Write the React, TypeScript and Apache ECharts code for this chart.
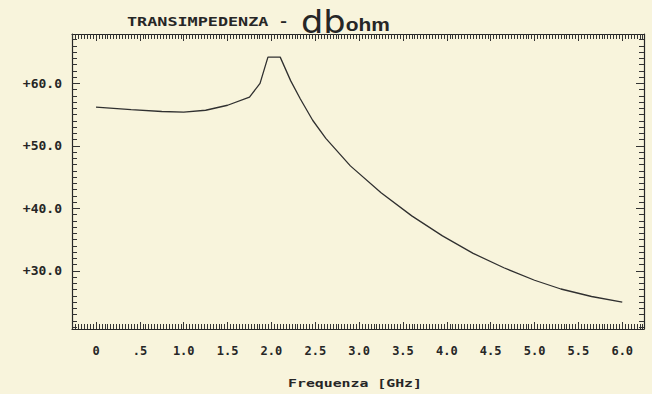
import React, { useEffect, useRef } from 'react';
import * as echarts from 'echarts';

// ---- data ----
const freqGHz = [0, 0.4, 0.75, 1.0, 1.25, 1.5, 1.75, 1.87, 1.96, 2.1, 2.22, 2.33, 2.47, 2.62, 2.9, 3.25, 3.6, 3.95, 4.3, 4.65, 5.0, 5.3, 5.65, 6.0];
const transDbOhm = [56.2, 55.8, 55.5, 55.4, 55.7, 56.5, 57.8, 60.0, 64.2, 64.2, 60.4, 57.5, 54.1, 51.2, 46.8, 42.5, 38.8, 35.6, 32.8, 30.5, 28.5, 27.1, 25.9, 25.0];

const xTickValues = [0, 0.5, 1, 1.5, 2, 2.5, 3, 3.5, 4, 4.5, 5, 5.5, 6];
const xTickLabels = ['0', '.5', '1.0', '1.5', '2.0', '2.5', '3.0', '3.5', '4.0', '4.5', '5.0', '5.5', '6.0'];
const yTickValues = [30, 40, 50, 60];
const yTickLabels = ['+30.0', '+40.0', '+50.0', '+60.0'];

const titleText = 'TRANSIMPEDENZA -';
const xAxisTitle = 'Frequenza [GHz]';

// ---- layout / style ----
const X_MIN = -0.274;
const X_MAX = 6.248;
const Y_MIN = 20.7;
const Y_MAX = 67.9;
const INK = '#262626';
const BG = '#f8f4dc';

const xMinor: number[] = [];
for (let i = -8; i <= 187; i++) xMinor.push(i / 30);
const yMinor: number[] = [];
for (let v = 21; v <= 67; v++) yMinor.push(v);

const labelFor = (vals: number[], labels: string[]) => (v: number) => {
  const i = vals.findIndex((t) => Math.abs(t - v) < 1e-6);
  return i >= 0 ? labels[i] : '';
};

function mkX(position: 'top' | 'bottom', major: boolean) {
  return {
    type: 'value',
    position,
    min: X_MIN,
    max: X_MAX,
    axisLine: { show: major, onZero: false, lineStyle: { color: INK, width: 1.2 } },
    axisTick: {
      show: true,
      inside: true,
      length: major ? 7 : 5,
      customValues: major ? xTickValues : xMinor,
      lineStyle: { color: '#333', width: 1 },
    },
    axisLabel: {
      show: major && position === 'bottom',
      customValues: xTickValues,
      formatter: labelFor(xTickValues, xTickLabels),
      margin: 16,
      color: INK,
      fontFamily: '"DejaVu Sans Mono"',
      fontWeight: 'bold',
      fontSize: 12,
    },
    splitLine: { show: false },
  };
}

function mkY(position: 'left' | 'right', major: boolean) {
  return {
    type: 'value',
    position,
    min: Y_MIN,
    max: Y_MAX,
    axisLine: { show: major, onZero: false, lineStyle: { color: INK, width: 1.2 } },
    axisTick: {
      show: true,
      inside: true,
      length: major ? 8 : 5,
      customValues: major ? yTickValues : yMinor,
      lineStyle: { color: '#333', width: 1 },
    },
    axisLabel: {
      show: major && position === 'left',
      customValues: yTickValues,
      formatter: labelFor(yTickValues, yTickLabels),
      margin: 10,
      color: INK,
      fontFamily: '"DejaVu Sans Mono"',
      fontWeight: 'bold',
      fontSize: 13,
    },
    splitLine: { show: false },
  };
}

export default function App() {
  const ref = useRef<HTMLDivElement>(null);
  useEffect(() => {
    if (!ref.current) return;
    const chart = echarts.init(ref.current, undefined, { renderer: 'svg' });
    chart.setOption({
      animation: false,
      backgroundColor: BG,
      grid: { left: 72, right: 8, top: 34, bottom: 65, containLabel: false },
      xAxis: [mkX('bottom', true), mkX('bottom', false), mkX('top', true), mkX('top', false)],
      yAxis: [mkY('left', true), mkY('left', false), mkY('right', true), mkY('right', false)],
      series: [
        {
          type: 'line',
          xAxisIndex: 0,
          yAxisIndex: 0,
          data: freqGHz.map((f, i) => [f, transDbOhm[i]]),
          showSymbol: false,
          smooth: false,
          lineStyle: { color: '#303030', width: 1.3 },
        },
      ],
      graphic: [
        {
          type: 'text',
          x: 127,
          y: 21,
          scaleX: 1.4,
          style: {
            text: titleText,
            font: 'bold 12px "DejaVu Sans Mono"',
            fill: INK,
            textAlign: 'left',
            textVerticalAlign: 'middle',
          },
        },
        {
          type: 'text',
          x: 301,
          y: 38,
          scaleX: 1.1,
          style: {
            text: '{a|db}{b|ohm}',
            textAlign: 'left',
            textVerticalAlign: 'bottom',
            fill: INK,
            rich: {
              a: { fontFamily: '"DejaVu Sans"', fontSize: 32, fontWeight: 'normal', fill: INK, verticalAlign: 'bottom', lineHeight: 32, padding: [0, 0, 0, 0] },
              b: { fontFamily: '"Liberation Sans"', fontSize: 19, fontWeight: 'bold', fill: INK, verticalAlign: 'bottom', lineHeight: 19, padding: [0, 0, 4, 0] },
            },
          },
        },
        {
          type: 'text',
          x: 355,
          y: 383,
          scaleX: 1.35,
          style: {
            text: xAxisTitle,
            font: 'bold 11px "DejaVu Sans Mono"',
            fill: INK,
            textAlign: 'center',
            textVerticalAlign: 'middle',
          },
        },
      ],
    });
    return () => chart.dispose();
  }, []);
  return (
    <div
      ref={ref}
      style={{ position: 'fixed', left: 0, top: 0, width: 652, height: 394, background: BG }}
    />
  );
}
